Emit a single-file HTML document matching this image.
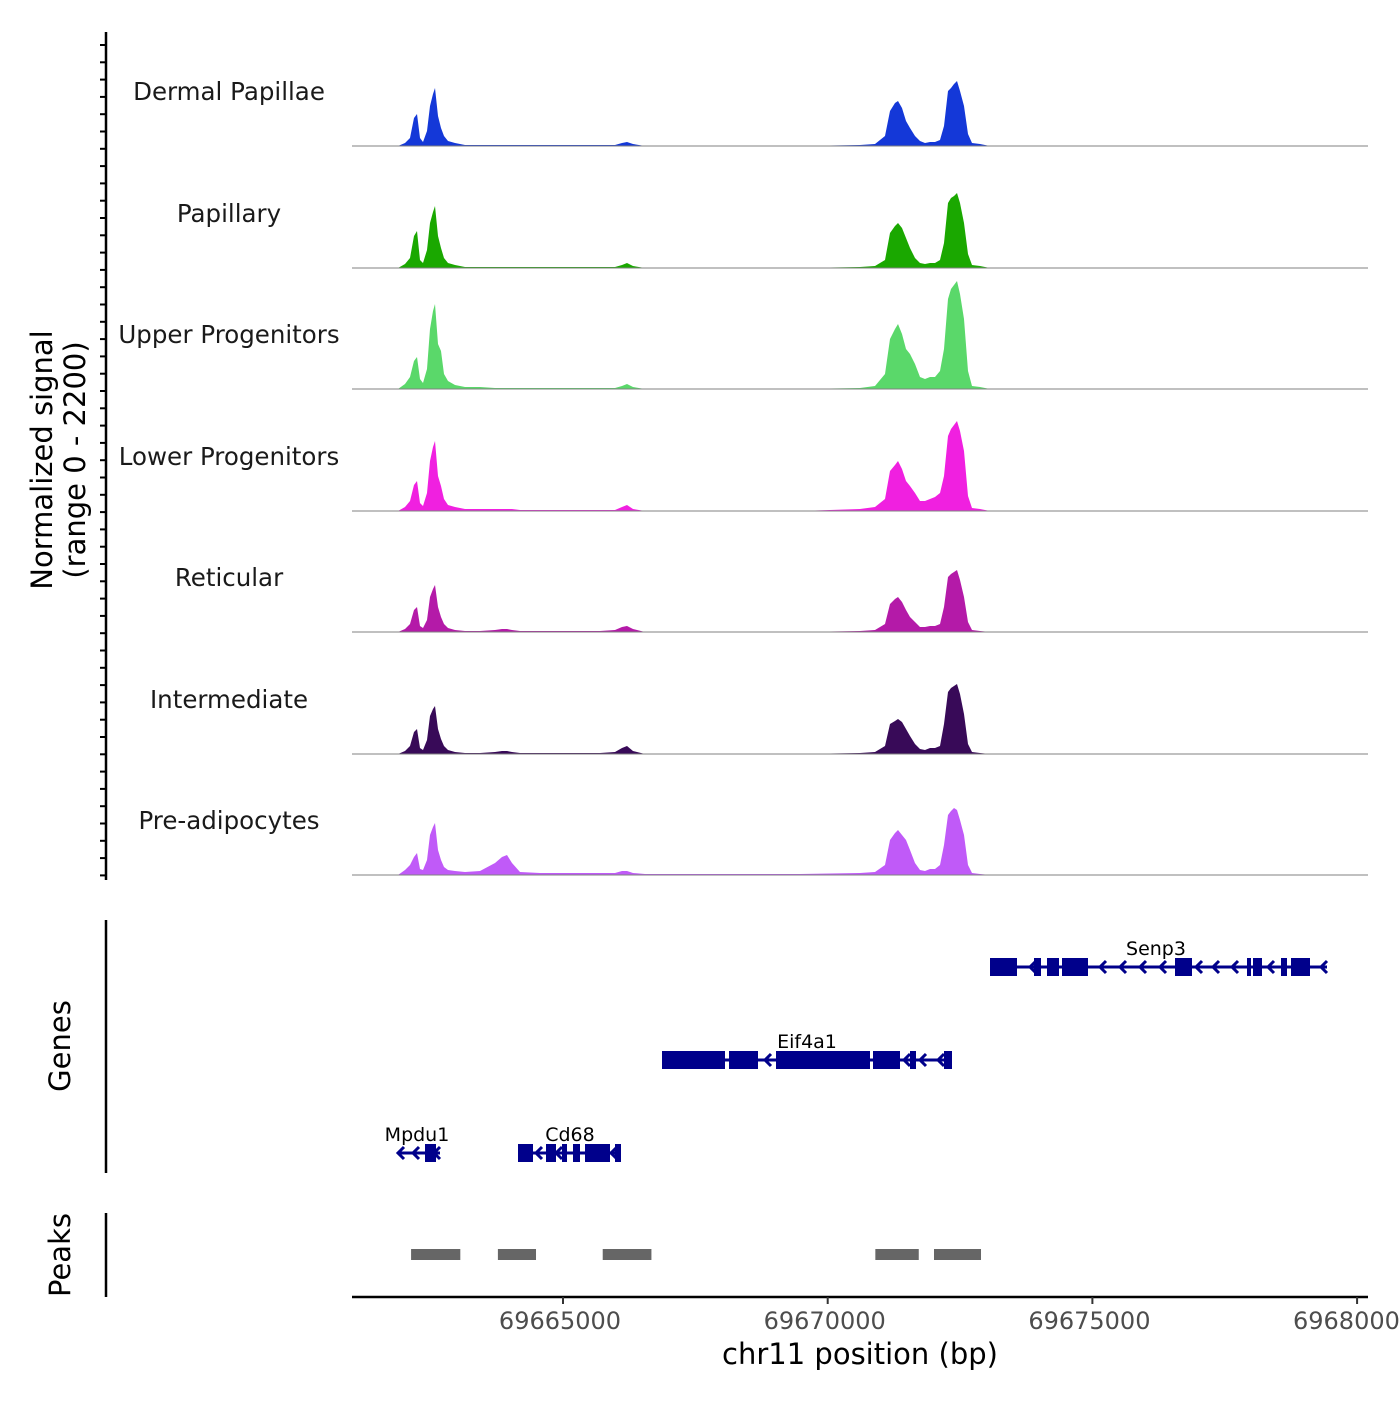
<!DOCTYPE html>
<html><head><meta charset="utf-8"><style>
body{margin:0;background:#fff}
svg text{font-family:"DejaVu Sans","Liberation Sans",sans-serif}
</style></head><body>
<svg id="chart" width="1400" height="1400" viewBox="0 0 1400 1400" xmlns="http://www.w3.org/2000/svg"></svg>
<script>
const positions=[69661883,69662015,69662110,69662185,69662242,69662299,69662355,69662431,69662487,69662544,69662582,69662639,69662695,69662752,69662827,69662960,69663149,69663432,69663715,69663848,69663942,69664036,69664188,69664565,69665699,69665982,69666114,69666209,69666322,69666549,69667588,69669477,69670610,69670893,69671082,69671177,69671271,69671328,69671404,69671479,69671555,69671649,69671744,69671838,69671932,69672027,69672121,69672197,69672272,69672329,69672386,69672442,69672499,69672575,69672650,69672726,69672877,69673066,69675144,69678355,69680206];
const trackNames=["Dermal Papillae","Papillary","Upper Progenitors","Lower Progenitors","Reticular","Intermediate","Pre-adipocytes"];
const trackColors=["#1438d8","#1aa800","#5ad86a","#f020e0","#b41aa8","#380a58","#c05af8"];
const sigDP=[0,60,160,560,640,160,80,300,800,1040,1160,600,360,200,100,60,20,20,20,20,20,20,20,20,20,20,60,80,40,0,0,0,20,40,200,700,860,900,760,500,360,200,100,60,80,80,120,400,1100,1160,1240,1300,1100,800,240,60,40,0,0,0,0];
const sigPap=[0,80,200,640,740,160,100,360,900,1120,1240,640,400,200,100,60,20,20,20,20,20,20,20,20,20,20,60,100,40,0,0,0,20,40,160,700,840,900,800,600,400,200,100,80,100,100,160,500,1300,1400,1440,1500,1300,900,280,60,40,0,0,0,0];
const sigUP=[0,100,240,560,640,200,120,400,1200,1560,1700,900,760,300,160,80,40,40,20,20,20,20,20,20,20,20,60,100,40,0,0,0,20,60,300,1000,1200,1300,1100,800,700,500,240,200,240,240,360,800,1800,2000,2080,2160,1900,1400,360,60,40,0,0,0,0];
const sigLP=[0,80,200,520,600,160,100,360,1000,1280,1400,700,500,240,120,80,40,40,40,40,40,40,20,20,20,20,80,120,40,0,0,0,40,80,240,800,920,1000,840,600,500,360,200,200,240,280,360,700,1500,1640,1720,1800,1600,1200,300,60,40,0,0,0,0];
const sigRet=[0,60,160,440,500,120,80,240,700,860,940,500,300,160,80,40,20,20,40,60,60,40,20,20,20,40,100,120,60,0,0,0,20,40,160,560,660,700,600,440,300,200,100,100,120,120,160,500,1100,1160,1200,1240,1040,700,200,40,20,0,0,0,0];
const sigInt=[0,60,160,440,500,120,80,280,760,900,960,500,300,160,80,40,20,20,40,60,60,40,20,20,20,40,120,160,60,0,0,0,20,40,160,600,660,700,640,500,360,200,100,80,120,120,160,600,1240,1320,1360,1400,1200,800,200,40,20,0,0,0,0];
const sigPre=[0,100,200,360,440,120,100,300,800,960,1040,500,300,160,100,80,60,80,240,360,400,240,60,40,40,40,80,80,40,20,20,20,40,60,200,700,840,900,800,700,500,240,100,80,120,120,200,600,1200,1280,1340,1300,1100,800,200,40,20,0,0,0,0];
const xTicks=[69665000,69670000,69675000,69680000];
const peakStarts=[69662130,69663770,69665750,69670900,69672008];
const peakEnds=[69663060,69664490,69666670,69671720,69672896];

const NS="http://www.w3.org/2000/svg";
const svg=document.getElementById('chart');
function mk(t,a,p){const e=document.createElementNS(NS,t);for(const k in a)e.setAttribute(k,a[k]);(p||svg).appendChild(e);return e;}
const X0=69661014,PX0=352,BPPX=18.89;
function xs(bp){return PX0+(bp-X0)/BPPX;}
const baselines=[146,268,389,511,632,754,875];
function ys(v,b){return b-v/2200*110;}
const sigs=[sigDP,sigPap,sigUP,sigLP,sigRet,sigInt,sigPre];
sigs.forEach((s,i)=>{
  const b=baselines[i];
  let d=`M${xs(positions[0])},${b}`;
  s.forEach((v,j)=>{d+=` L${xs(positions[j]).toFixed(1)},${ys(v,b).toFixed(1)}`;});
  d+=` L${xs(positions[positions.length-1])},${b} Z`;
  const p=mk('path',{d:d,fill:trackColors[i]});
  
  
  const l=mk('line',{x1:352,x2:1368,y1:b,y2:b,stroke:'#808080','stroke-width':1});
  
  
  const t=mk('text',{x:229,y:b-46,'text-anchor':'middle','font-size':24.5,fill:'#1a1a1a'});
  t.textContent=trackNames[i];
  
  
});
mk('line',{x1:106,x2:106,y1:32,y2:880,stroke:'#000','stroke-width':2.5,});
for(let y=45;y<=880;y+=17.3){mk('line',{x1:100,x2:106,y1:y,y2:y,stroke:'#000','stroke-width':2});}
const yt=mk('text',{transform:'translate(52,460) rotate(-90)','text-anchor':'middle','font-size':29,fill:'#000',});
yt.innerHTML='<tspan x="0" dy="0">Normalized signal</tspan><tspan x="0" dy="33">(range 0 - 2200)</tspan>';
mk('line',{x1:106,x2:106,y1:920,y2:1173,stroke:'#000','stroke-width':2.5,});
const gt=mk('text',{transform:'translate(70,1046) rotate(-90)','text-anchor':'middle','font-size':29,});gt.textContent='Genes';
const GC='#00008b';
function gene(name,y,x1,x2,exons,chev,lx){
  const g=mk('g',{});
  mk('line',{x1:x1,x2:x2,y1:y,y2:y,stroke:GC,'stroke-width':3},g);
  exons.forEach(e=>mk('rect',{x:e[0],y:y-9,width:e[1]-e[0],height:18,fill:GC},g));
  chev.forEach(c=>mk('path',{d:`M${c+6},${y-6} L${c},${y} L${c+6},${y+6}`,stroke:GC,'stroke-width':3,fill:'none'},g));
  const t=mk('text',{x:lx,y:y-12,'text-anchor':'middle','font-size':19},g);t.textContent=name;
}
gene('Senp3',967,990,1327,[[990,1017],[1034,1041],[1047,1059],[1062,1088],[1175,1192],[1247,1251],[1253,1262],[1281,1287],[1291,1310]],[1030,1100,1120,1140,1160,1196,1213,1232,1268,1321],1156);
gene('Eif4a1',1060,662,952,[[662,725],[729,758],[776,870],[873,900],[910,916],[944,952]],[765,904,920,938],807);
gene('Mpdu1',1153,398,440,[[425,436]],[398,413,434],417);
gene('Cd68',1153,518,621,[[518,533],[546,556],[562,567],[573,580],[585,610],[615,621]],[536,556,611],570);
mk('line',{x1:106,x2:106,y1:1213,y2:1297,stroke:'#000','stroke-width':2.5,});
const pt=mk('text',{transform:'translate(70,1255) rotate(-90)','text-anchor':'middle','font-size':29,});pt.textContent='Peaks';
peakStarts.forEach((s,i)=>{
  const r=mk('rect',{x:xs(s),y:1249,width:xs(peakEnds[i])-xs(s),height:11,fill:'#666666'});
  
  
});
mk('line',{x1:352,x2:1368,y1:1297,y2:1297,stroke:'#000','stroke-width':2.5,});
xTicks.forEach(v=>{
  const x=xs(v);
  mk('line',{x1:x,x2:x,y1:1297,y2:1304,stroke:'#333','stroke-width':2});
  const t=mk('text',{x:x-3,y:1329,'text-anchor':'middle','font-size':24,fill:'#4d4d4d'});
  t.textContent=v;
  
  
});
const xt=mk('text',{x:860,y:1364,'text-anchor':'middle','font-size':29,});xt.textContent='chr11 position (bp)';
</script>
</body></html>
